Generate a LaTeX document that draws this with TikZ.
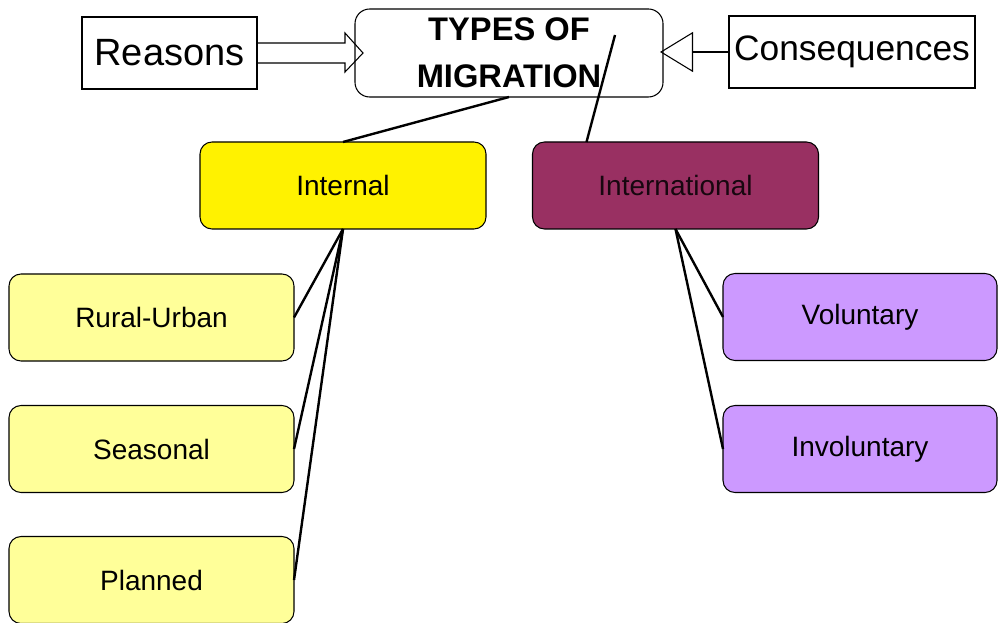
\documentclass[tikz,border=0pt]{standalone}
\usepackage{fontspec}
\setmainfont{Liberation Sans}
\usetikzlibrary{arrows.meta,calc}
\definecolor{leafyellow}{RGB}{255,255,153}
\definecolor{plum}{RGB}{153,48,98}
\definecolor{lilac}{RGB}{204,153,255}
\begin{document}
\begin{tikzpicture}
	[x=0.75pt,y=-0.75pt,
	every node/.style={inner sep=0,outer sep=0,line width=0.8pt},
	plainbox/.style={draw,minimum height=54pt},
	branch/.style={draw,rounded corners=9pt,minimum width=214.5pt,minimum height=65.25pt,font=\fontsize{21}{25}\selectfont},
	leaf/.style={branch,minimum width=213.75pt},
	link/.style={line width=1.8pt}]
	\useasboundingbox (0,0) rectangle (998,623);
	\node (main) [draw, rounded corners=11pt, minimum width=231pt, minimum height=66pt, align=center,
		font=\fontsize{24.5}{35}\selectfont\bfseries] at (509, 53) {TYPES OF \\ MIGRATION};
	\node (reasons) [plainbox, minimum width=131.25pt, font=\fontsize{28.5}{32}\selectfont] at (169.5, 53) {Reasons};
	\node (cons) [plainbox, minimum width=184.5pt, font=\fontsize{26.5}{32}\selectfont] at (852, 52) {Consequences};
	\node (internal) [branch, fill=yellow] at (343, 185.5) {Internal};
	\node (international) [branch, fill=plum, text=black!85!plum] at (675.5, 185.5) {International};
	\node (rural) [leaf, fill=leafyellow] at (151.5, 317.5) {Rural-Urban};
	\node (seasonal) [leaf, fill=leafyellow] at (151.5, 449) {Seasonal};
	\node (planned) [leaf, fill=leafyellow] at (151.5, 580) {Planned};
	\node (voluntary) [leaf, fill=lilac, minimum width=205.5pt] at (860, 317) {Voluntary};
	\node (involuntary) [leaf, fill=lilac, minimum width=205.5pt] at (860, 449) {Involuntary};
	\coordinate (tail) at (615, 35);
	% arrows into the title box
	\draw [line width=0.8pt] ($(reasons.east)+(0,-10)$) -- ++(88,0) -- ++(0,-10) -- ($(main.west)+(8,0)$)
		-- ($(reasons.east)+(88,19)$) -- ++(0,-9) -- ($(reasons.east)+(0,10)$);
	\draw [line width=0.8pt, -{Triangle[open, length=24.75pt, width=30pt]}] (cons.west) -- ($(main.east |- cons.west)+(-3,0)$);
	\draw [link] (main.south) -- (internal.north);
	\draw [link] (tail) -- ($(international.north west)+(54,0)$);
	\draw [link] (internal.south) -- (rural.east);
	\draw [link] (internal.south) -- (seasonal.east);
	\draw [link] (internal.south) -- (planned.east);
	\draw [link] (international.south) -- (voluntary.west);
	\draw [link] (international.south) -- (involuntary.west);
\end{tikzpicture}
\end{document}
